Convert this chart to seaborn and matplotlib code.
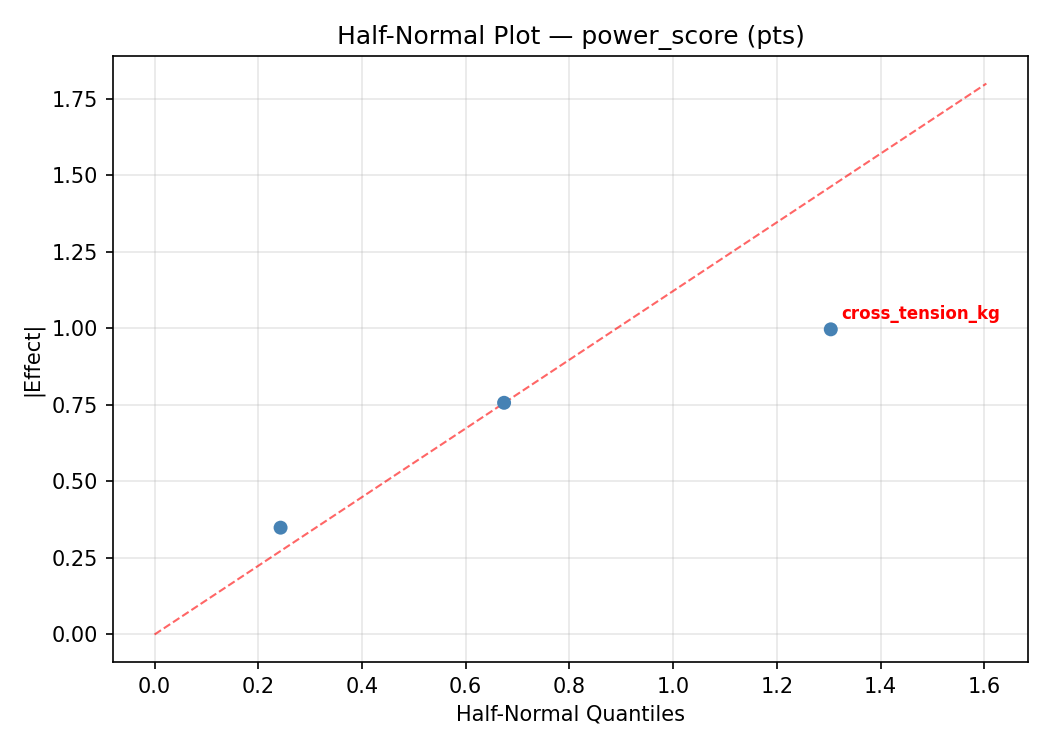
import matplotlib
matplotlib.use("Agg")
import matplotlib.pyplot as plt
import seaborn as sns
import pandas as pd

# Data
factors = ["factor_a", "factor_b", "cross_tension_kg"]
quantiles = [0.243, 0.674, 1.304]
abs_effects = [0.349, 0.757, 0.997]
ref_x = [0.0, 1.604]
ref_y = [0.0, 1.800]
highlight = ["cross_tension_kg"]

sns.set_style("ticks")
plt.rcParams.update({
    'font.family': ['DejaVu Sans'],
    'text.color': 'black',
    'axes.labelcolor': 'black',
    'xtick.color': 'black',
    'ytick.color': 'black',
    'axes.edgecolor': 'black',
    'grid.color': '#b0b0b0',
})

df = pd.DataFrame({"factor": factors, "q": quantiles, "eff": abs_effects})

fig, ax = plt.subplots(figsize=(7, 5), dpi=150)
fig.subplots_adjust(left=0.1076, right=0.979, top=0.9253, bottom=0.1173)

sns.lineplot(x=ref_x, y=ref_y, ax=ax, color="red", linestyle="--",
             linewidth=1, alpha=0.6, zorder=2)
sns.scatterplot(data=df, x="q", y="eff", ax=ax, color="steelblue", s=45,
                edgecolor="none", zorder=3)

for f, q, e in zip(factors, quantiles, abs_effects):
    if f in highlight:
        ax.annotate(f, (q, e), xytext=(5, 5), textcoords="offset points",
                    color="red", fontsize=8, fontweight="bold")

ax.grid(True, alpha=0.3, color='#b0b0b0')
for s in ax.spines.values():
    s.set_visible(True)
    s.set_color("black")
ax.set_xlabel("Half-Normal Quantiles")
ax.set_ylabel("|Effect|")
ax.set_title("Half-Normal Plot \u2014 power_score (pts)")

fig.savefig("out.png", dpi=150)
